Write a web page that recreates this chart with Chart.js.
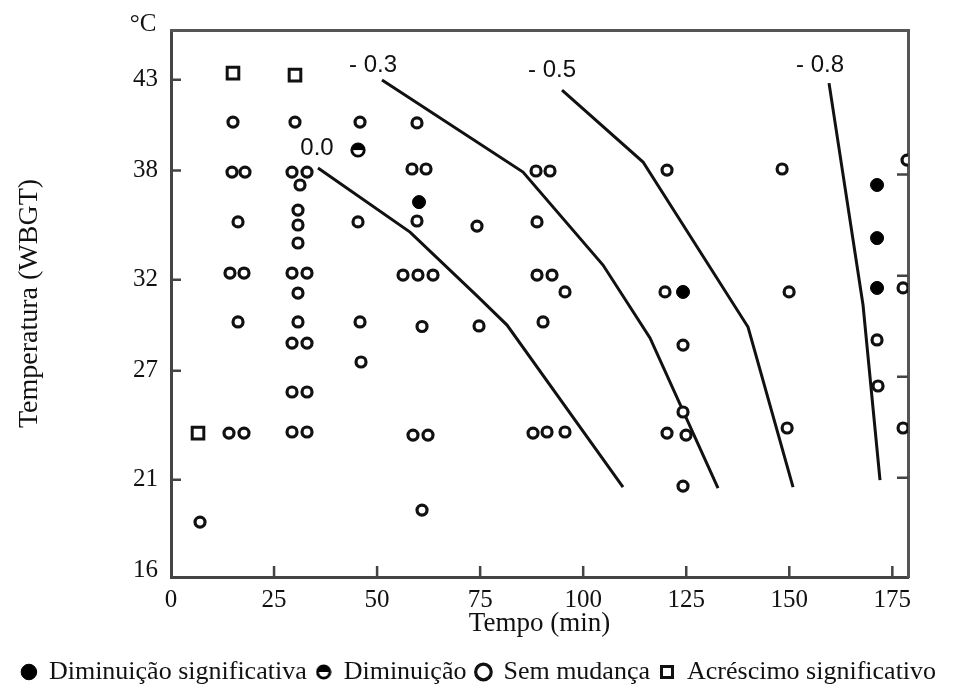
<!DOCTYPE html>
<html lang="pt">
<head>
<meta charset="utf-8">
<title>Temperatura (WBGT) x Tempo</title>
<script src="https://cdn.jsdelivr.net/npm/chart.js@4.4.1/dist/chart.umd.min.js"></script>
<style>
  html, body { margin: 0; padding: 0; background: #fff; }
  #wrap { width: 958px; height: 695px; }
</style>
</head>
<body>
<div id="wrap"><canvas id="chart" width="958" height="695"></canvas></div>
<script>
// axis ranges and ticks (min, °C)
const X_MIN = 0;
const X_MAX = 178.8;
const X_TICKS = [0, 25, 50, 75, 100, 125, 150, 175];
const Y_MIN = 15.66;
const Y_MAX = 45.73;
const Y_TICKS = [16, 21, 27, 32, 38, 43];
// small marks on the right frame (70, 80, 90, 100 °F)
const RIGHT_TICKS = [21.11, 26.67, 32.22, 37.78];

// observations: [tempo (min), temperatura (°C)]
const SIGNIFICANT_DECREASE = [
  [60.17, 36.27], [124.22, 31.33], [171.29, 37.21], [171.29, 34.29], [171.29, 31.55]
];
const DECREASE = [
  [45.37, 39.13]
];
const NO_CHANGE = [
  [15.04, 40.67], [30.08, 40.67], [45.86, 40.67], [59.68, 40.62],
  [14.80, 37.92], [17.95, 37.92], [29.36, 37.92], [33.00, 37.92], [31.30, 37.21],
  [58.47, 38.09], [61.87, 38.09], [88.56, 37.98], [91.95, 37.98], [120.34, 38.03],
  [148.26, 38.09], [178.57, 38.58],
  [30.81, 35.83], [30.81, 35.01], [30.81, 34.02], [16.26, 35.18], [45.37, 35.18],
  [59.68, 35.23], [74.24, 34.95], [88.80, 35.18],
  [14.31, 32.37], [17.71, 32.37], [29.36, 32.37], [33.00, 32.37], [56.29, 32.26],
  [59.92, 32.26], [63.57, 32.26], [88.80, 32.26], [92.44, 32.26], [95.59, 31.33],
  [119.85, 31.33], [149.96, 31.33], [177.60, 31.55], [30.81, 31.27],
  [16.26, 29.68], [30.81, 29.68], [45.86, 29.68], [60.90, 29.43], [74.73, 29.46], [90.26, 29.68],
  [29.36, 28.52], [33.00, 28.52], [124.22, 28.41], [171.29, 28.69], [46.10, 27.48],
  [29.36, 25.83], [33.00, 25.83], [171.53, 26.16], [124.22, 24.73],
  [14.07, 23.57], [17.71, 23.57], [29.36, 23.63], [33.00, 23.63], [58.71, 23.46],
  [62.35, 23.46], [87.83, 23.57], [91.23, 23.63], [95.59, 23.63], [120.34, 23.57],
  [124.95, 23.46], [149.48, 23.85], [177.60, 23.85],
  [124.22, 20.66], [60.90, 19.34], [7.04, 18.68]
];
const SIGNIFICANT_INCREASE = [
  [15.04, 43.36], [30.08, 43.25], [6.55, 23.57]
];

// iso-lines
const CURVE_00 = [[35.66, 38.14], [57.99, 34.62], [74.24, 31.11], [81.52, 29.51], [109.66, 20.60]];
const CURVE_03 = [[51.19, 42.98], [85.40, 37.92], [104.81, 32.81], [116.21, 28.80], [132.71, 20.55]];
const CURVE_05 = [[94.86, 42.43], [114.52, 38.47], [139.99, 29.40], [150.91, 20.60]];
const CURVE_08 = [[159.64, 42.81], [167.89, 30.61], [172.01, 20.99]];
const CURVE_LABELS = ['0.0', '- 0.3', '- 0.5', '- 0.8'];
const CURVE_LABEL_POS = [[35.42, 39.24], [49.01, 43.80], [92.44, 43.53], [157.46, 43.80]];

const SERIF = '"Liberation Serif", "Times New Roman", serif';
const INK = '#111';
const FRAME = '#444';

const toXY = pts => pts.map(([x, y]) => ({ x, y }));

// half filled marker (top half black)
function halfDot() {
  const c = document.createElement('canvas');
  c.width = c.height = 16;
  const g = c.getContext('2d');
  g.beginPath(); g.arc(8, 8, 6.2, 0, Math.PI * 2); g.fillStyle = '#fff'; g.fill();
  g.beginPath(); g.arc(8, 8, 6.2, Math.PI, 0); g.closePath(); g.fillStyle = '#000'; g.fill();
  g.beginPath(); g.arc(8, 8, 6.2, 0, Math.PI * 2); g.lineWidth = 2.8; g.strokeStyle = '#000'; g.stroke();
  return c;
}

function curve(pts) {
  return {
    data: toXY(pts),
    showLine: true,
    borderColor: INK,
    borderWidth: 3,
    pointRadius: 0,
    tension: 0,
    fill: false
  };
}

// inward tick marks, curve labels and unit
const decorations = {
  id: 'decorations',
  afterDraw(chart) {
    const { ctx, chartArea: a, scales: { x, y } } = chart;
    ctx.save();
    ctx.strokeStyle = FRAME;
    ctx.lineWidth = 2.5;
    ctx.beginPath();
    X_TICKS.slice(1).forEach(v => {
      const px = x.getPixelForValue(v);
      ctx.moveTo(px, a.bottom);
      ctx.lineTo(px, a.bottom - 11);
    });
    Y_TICKS.slice(1).forEach(v => {
      const py = y.getPixelForValue(v);
      ctx.moveTo(a.left, py);
      ctx.lineTo(a.left + 10, py);
    });
    RIGHT_TICKS.forEach(v => {
      const py = y.getPixelForValue(v);
      ctx.moveTo(a.right, py);
      ctx.lineTo(a.right - 11, py);
    });
    ctx.stroke();

    ctx.fillStyle = INK;
    ctx.textAlign = 'center';
    ctx.textBaseline = 'middle';
    ctx.font = '24px "Liberation Sans", Arial, sans-serif';
    CURVE_LABELS.forEach((t, i) => {
      const [vx, vy] = CURVE_LABEL_POS[i];
      ctx.fillText(t, x.getPixelForValue(vx), y.getPixelForValue(vy));
    });

    ctx.font = '25px ' + SERIF;
    ctx.fillText('°C', a.left - 28, a.top - 6);
    ctx.restore();
  }
};

Chart.defaults.font.family = SERIF;
Chart.defaults.color = INK;

new Chart(document.getElementById('chart'), {
  type: 'scatter',
  data: {
    datasets: [
      {
        label: 'Diminuição significativa',
        data: toXY(SIGNIFICANT_DECREASE),
        pointStyle: 'circle',
        pointRadius: 6.5,
        backgroundColor: '#000',
        borderColor: '#000',
        borderWidth: 1
      },
      {
        label: 'Diminuição',
        data: toXY(DECREASE),
        pointStyle: halfDot(),
        pointRadius: 7,
        backgroundColor: '#000',
        borderColor: '#000',
        borderWidth: 2
      },
      {
        label: 'Sem mudança',
        data: toXY(NO_CHANGE),
        pointStyle: 'circle',
        pointRadius: 5,
        backgroundColor: '#fff',
        borderColor: INK,
        borderWidth: 3.2
      },
      {
        label: 'Acréscimo significativo',
        data: toXY(SIGNIFICANT_INCREASE),
        pointStyle: 'rect',
        pointRadius: 8.2,
        backgroundColor: '#fff',
        borderColor: INK,
        borderWidth: 3
      },
      curve(CURVE_00),
      curve(CURVE_03),
      curve(CURVE_05),
      curve(CURVE_08)
    ]
  },
  options: {
    responsive: false,
    animation: false,
    devicePixelRatio: 1,
    layout: { padding: 0 },
    plugins: {
      tooltip: { enabled: false },
      legend: {
        position: 'bottom',
        labels: {
          usePointStyle: true,
          boxWidth: 14,
          boxHeight: 11,
          padding: 10,
          color: INK,
          font: { size: 26, family: SERIF },
          filter: item => item.datasetIndex < 4
        }
      }
    },
    scales: {
      x: {
        type: 'linear',
        position: 'bottom',
        min: X_MIN,
        max: X_MAX,
        afterBuildTicks: s => { s.ticks = X_TICKS.map(value => ({ value })); },
        afterFit: s => { s.height = 72; },
        grid: { display: false, drawTicks: false },
        border: { display: true, color: FRAME, width: 3 },
        ticks: { autoSkip: false, maxRotation: 0, padding: 8, color: INK, font: { size: 25 } },
        title: {
          display: true,
          text: 'Tempo (min)',
          color: INK,
          font: { size: 27 },
          padding: { top: 0, bottom: 9 }
        }
      },
      y: {
        type: 'linear',
        position: 'left',
        min: Y_MIN,
        max: Y_MAX,
        afterBuildTicks: s => { s.ticks = Y_TICKS.map(value => ({ value })); },
        afterFit: s => { s.width = 171; },
        grid: { display: false, drawTicks: false },
        border: { display: true, color: FRAME, width: 3 },
        ticks: { autoSkip: false, padding: 13, color: INK, font: { size: 25 } },
        title: {
          display: true,
          text: 'Temperatura (WBGT)',
          color: INK,
          font: { size: 28 },
          padding: { top: 13, bottom: 0 }
        }
      },
      x2: {
        type: 'linear',
        position: 'top',
        min: X_MIN,
        max: X_MAX,
        afterFit: s => { s.height = 30; },
        grid: { display: false, drawTicks: false },
        border: { display: true, color: '#555', width: 3 },
        ticks: { display: false }
      },
      y2: {
        type: 'linear',
        position: 'right',
        min: Y_MIN,
        max: Y_MAX,
        afterFit: s => { s.width = 50; },
        grid: { display: false, drawTicks: false },
        border: { display: true, color: '#555', width: 3 },
        ticks: { display: false }
      }
    }
  },
  plugins: [decorations]
});
</script>
</body>
</html>
